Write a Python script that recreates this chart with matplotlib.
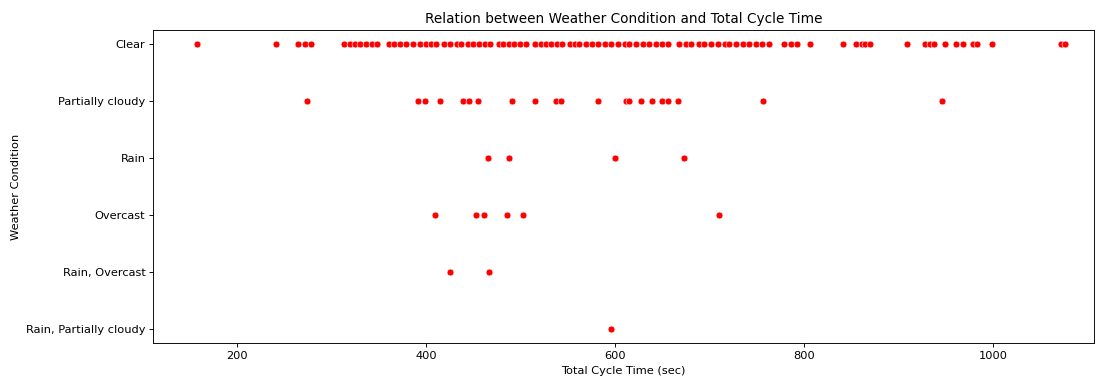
import numpy as np
import pandas as pd
import matplotlib
matplotlib.use('Agg')
import matplotlib.pyplot as plt
import seaborn as sns

# cycle time (sec) per weather condition
clear = [157, 241, 264, 272, 278,
         313, 319, 324, 330, 336, 343, 348,
         360, 366, 372, 378, 386, 393, 400, 405, 410, 419, 425, 432, 437, 444,
         449, 456, 462, 467, 477, 481, 488, 493, 499, 506, 515, 522, 527, 532,
         538, 544, 552, 557, 562, 569, 576, 582, 589, 596, 603, 610, 615, 622,
         629, 636, 643, 650, 656, 668, 675, 680, 689, 694, 702, 709, 716, 721,
         728, 735, 742, 749, 756, 763, 779, 786, 793,
         806, 841, 855, 861, 865, 870, 909, 928, 933, 938, 949, 961, 968, 979,
         983, 999, 1072, 1076]
partly_cloudy = [274, 391, 399, 415, 439, 445, 455, 491, 515, 537, 543, 582,
                 611, 615, 627, 639, 650, 656, 667, 757, 946]
rain = [465, 488, 600, 673]
overcast = [409, 453, 461, 485, 502, 710]
rain_overcast = [425, 466]
rain_partly = [596]

conditions = ['Clear', 'Partially cloudy', 'Rain', 'Overcast',
              'Rain, Overcast', 'Rain, Partially cloudy']
groups = [clear, partly_cloudy, rain, overcast, rain_overcast, rain_partly]

rows = []
for cond, vals in zip(conditions, groups):
    for v in vals:
        rows.append({'Weather Condition': cond, 'Total Cycle Time (sec)': v})
df = pd.DataFrame(rows)

# original looks like a downscaled notebook figure -> render at 82 dpi
dpi = 82
fig = plt.figure(figsize=(1096 / dpi, 376.2 / dpi), dpi=dpi)
ax = fig.add_axes([0.14, 0.088, 0.858, 0.832])
sns.scatterplot(data=df, x='Total Cycle Time (sec)', y='Weather Condition',
                color='red', ax=ax)
ax.set_xlim(111, 1107)
ax.set_title('Relation between Weather Condition and Total Cycle Time')

fig.savefig('out.png', dpi=dpi)
